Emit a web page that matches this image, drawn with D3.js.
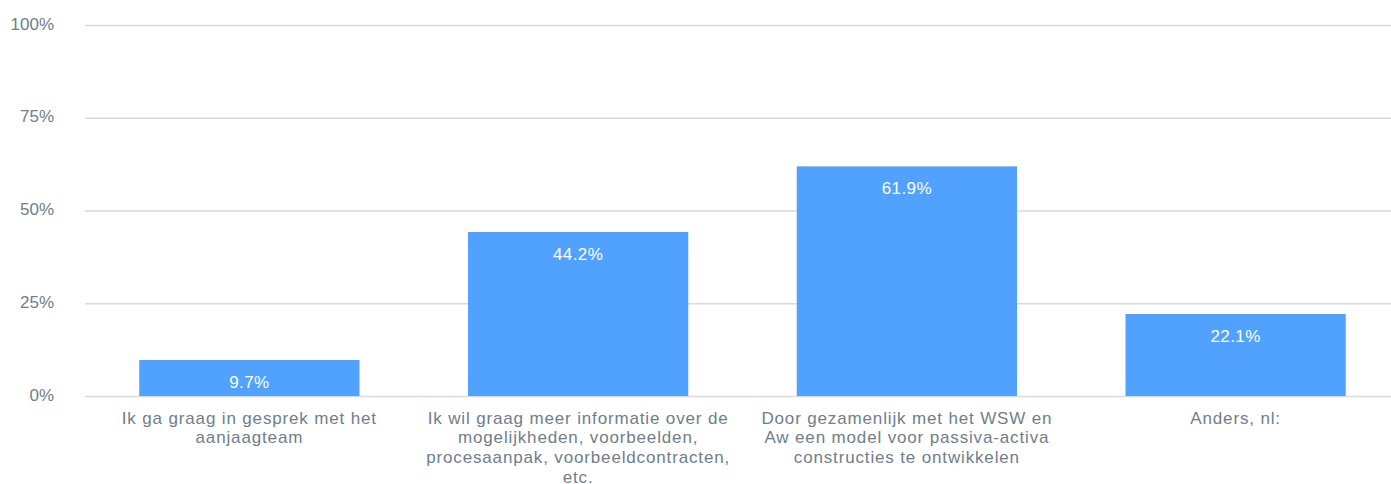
<!DOCTYPE html>
<html>
<head>
<meta charset="utf-8">
<script src="https://cdnjs.cloudflare.com/ajax/libs/d3/7.8.5/d3.min.js"></script>
<style>
  body { margin: 0; background: #fff; }
  svg { display: block; font-family: Arial, "Liberation Sans", sans-serif; }
</style>
</head>
<body>
<svg id="chart" width="1391" height="484"></svg>
<script>
// answer options (pre-wrapped lines, as in the picture)
var categories = [
  ["Ik ga graag in gesprek met het", "aanjaagteam"],
  ["Ik wil graag meer informatie over de", "mogelijkheden, voorbeelden,", "procesaanpak, voorbeeldcontracten,", "etc."],
  ["Door gezamenlijk met het WSW en", "Aw een model voor passiva-activa", "constructies te ontwikkelen"],
  ["Anders, nl:"]
];
var values = [9.7, 44.2, 61.9, 22.1];
var yTicks = [0, 25, 50, 75, 100];

var svg = d3.select('#chart');
var width = 1391, height = 484;
var margin = {left: 85, right: -9, top: 25, bottom: 88};

var x = d3.scaleBand()
    .domain(d3.range(values.length))
    .range([margin.left, width - margin.right])
    .paddingInner(0.33)
    .paddingOuter(0.165);

var y = d3.scaleLinear()
    .domain([0, 100])
    .range([height - margin.bottom, margin.top]);

// gridlines + tick labels
var yAxis = svg.append('g')
    .attr('transform', `translate(${margin.left},0)`)
    .call(d3.axisLeft(y).tickValues(yTicks).tickFormat(d => d + '%').tickSize(0));
yAxis.select('.domain').remove();
yAxis.selectAll('.tick line')
    .attr('x2', width - margin.left)
    .attr('stroke', '#d9d9d9')
    .attr('stroke-width', 1.5);
yAxis.selectAll('.tick text')
    .attr('x', -31)
    .attr('dy', 4)
    .style('font-size', '17px')
    .style('font-family', 'Arial, "Liberation Sans", sans-serif')
    .attr('fill', '#6f7e8a');

// bars
svg.append('g').selectAll('rect')
    .data(values)
    .join('rect')
    .attr('x', (d, i) => x(i))
    .attr('y', d => y(d))
    .attr('width', x.bandwidth())
    .attr('height', d => y(0) - y(d))
    .attr('fill', '#51a2ff');

// value labels
svg.append('g').selectAll('text')
    .data(values)
    .join('text')
    .attr('x', (d, i) => x(i) + x.bandwidth() / 2)
    .attr('y', d => y(d) + 28)
    .attr('text-anchor', 'middle')
    .attr('fill', '#fff')
    .style('font-size', '17px')
    .style('letter-spacing', '0.4px')
    .text(d => d + '%');

// category labels
var labels = svg.append('g').selectAll('text')
    .data(categories)
    .join('text')
    .attr('text-anchor', 'middle')
    .attr('fill', '#6f7e8a')
    .style('font-size', '17px')
    .style('letter-spacing', '0.85px');
labels.each(function(lines, i) {
    d3.select(this).selectAll('tspan')
        .data(lines)
        .join('tspan')
        .attr('x', x(i) + x.bandwidth() / 2)
        .attr('y', (l, j) => y(0) + 27.5 + j * 19.7)
        .text(l => l);
});
</script>
</body>
</html>
